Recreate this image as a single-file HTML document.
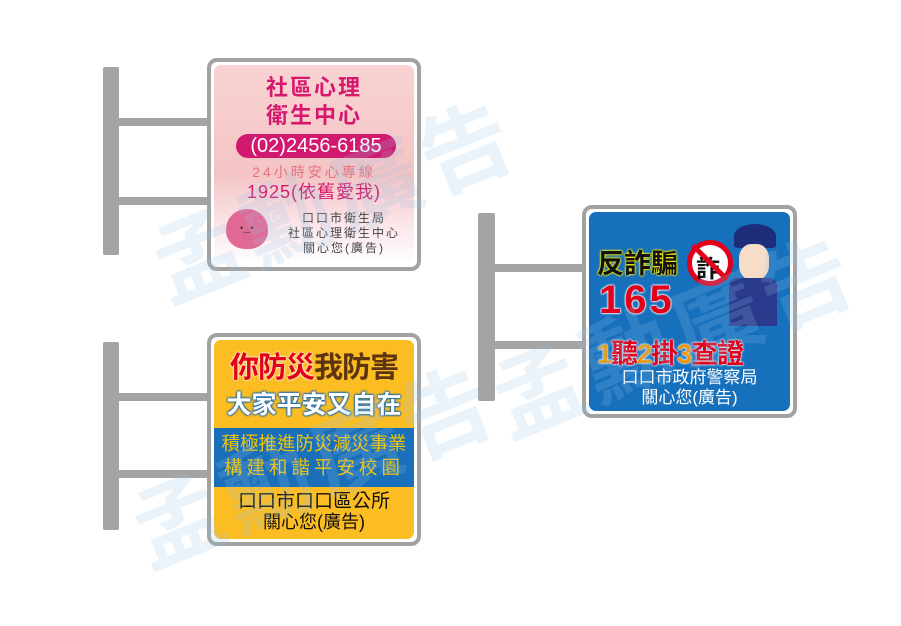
<!DOCTYPE html>
<html><head><meta charset="utf-8"><style>
body{margin:0;width:901px;height:626px;background:#fff;position:relative;overflow:hidden;font-family:"Liberation Sans","Noto Sans CJK TC",sans-serif}
.a{position:absolute}
.g{background:#a4a4a4}
.fr{position:absolute;border:4px solid #a2a2a2;border-radius:10px;background:#fff;box-sizing:border-box}
.in{position:absolute;border-radius:7px;overflow:hidden}
.t{position:absolute;left:0;right:0;text-align:center;white-space:nowrap;line-height:1}
.wm{position:absolute;font-size:90px;color:rgba(150,195,230,0.2);font-weight:bold;transform:rotate(-22deg);white-space:nowrap;letter-spacing:6px;pointer-events:none}
</style></head><body>
<!-- sign 1 -->
<div class="a g" style="left:103px;top:67px;width:16px;height:188px;border-radius:2px"></div>
<div class="a g" style="left:119px;top:118px;width:92px;height:8px"></div>
<div class="a g" style="left:119px;top:197px;width:92px;height:8px"></div>
<div class="fr" style="left:207px;top:58px;width:214px;height:213px"></div>
<div class="in" style="left:214px;top:65px;width:200px;height:200px;background:linear-gradient(#f9d3d3,#f4c4c4 55%,#fbe6ea 80%,#fff)">
 <div class="t" style="top:12px;font-size:22px;font-weight:bold;color:#d6186e;letter-spacing:2px">社區心理</div>
 <div class="t" style="top:40px;font-size:22px;font-weight:bold;color:#d6186e;letter-spacing:2px">衛生中心</div>
 <div class="a" style="left:22px;top:69px;width:160px;height:24px;border-radius:12px;background:#d0196f;color:#fff;font-size:20px;text-align:center;line-height:24px">(02)2456-6185</div>
 <div class="t" style="top:100px;font-size:14px;color:#e27382;letter-spacing:3px">24小時安心專線</div>
 <div class="t" style="top:118px;font-size:18px;color:#d6186e;letter-spacing:1px">1925(依舊愛我)</div>
 <div class="a" style="left:12px;top:144px;width:42px;height:40px;background:#e06a95;border-radius:50% 50% 45% 45%"></div>
 <div class="a" style="left:26px;top:158px;font-size:9px;color:#333">•‿•</div>
 <div class="a" style="left:62px;top:146px;width:136px;text-align:center;font-size:12px;color:#444;line-height:15px;letter-spacing:2px">口口市衛生局<br>社區心理衛生中心<br>關心您(廣告)</div>
</div>
<!-- sign 2 -->
<div class="a g" style="left:103px;top:342px;width:16px;height:188px;border-radius:2px"></div>
<div class="a g" style="left:119px;top:393px;width:92px;height:8px"></div>
<div class="a g" style="left:119px;top:470px;width:92px;height:8px"></div>
<div class="fr" style="left:207px;top:333px;width:214px;height:213px"></div>
<div class="in" style="left:214px;top:340px;width:200px;height:199px;background:#fbbd22">
 <div class="t" style="top:14px;font-size:29px;font-weight:bold;letter-spacing:-1px"><span style="color:#e2001b;text-shadow:0 0 2px #fff,0 0 2px #fff">你防災</span><span style="color:#5c3412">我防害</span></div>
 <div class="t" style="top:53px;font-size:25px;font-weight:bold;color:#fff;text-shadow:0 0 2px #1a6bb6,0 0 2px #1a6bb6,0 0 2px #1a6bb6,0 0 2px #1a6bb6">大家平安又自在</div>
 <div class="a" style="left:0;top:88px;width:200px;height:59px;background:#1a6fba"></div>
 <div class="t" style="top:95px;font-size:18.5px;color:#f5c400">積極推進防災減災事業</div>
 <div class="t" style="top:119px;font-size:18.5px;color:#f5c400;letter-spacing:4px">構建和諧平安校園</div>
 <div class="t" style="top:152px;font-size:19px;color:#111">口口市口口區公所</div>
 <div class="t" style="top:173px;font-size:18px;color:#111">關心您(廣告)</div>
</div>
<!-- sign 3 -->
<div class="a g" style="left:478px;top:213px;width:17px;height:188px;border-radius:2px"></div>
<div class="a g" style="left:495px;top:264px;width:92px;height:8px"></div>
<div class="a g" style="left:495px;top:341px;width:92px;height:8px"></div>
<div class="fr" style="left:582px;top:205px;width:215px;height:213px"></div>
<div class="in" style="left:589px;top:212px;width:201px;height:199px;background:#1670bc">
 <div class="a" style="left:145px;top:12px;width:42px;height:24px;background:#1d2d7a;border-radius:50% 50% 10% 10%"></div>
 <div class="a" style="left:150px;top:32px;width:30px;height:36px;background:#f7dcc8;border-radius:40%"></div>
 <div class="a" style="left:140px;top:66px;width:48px;height:48px;background:#2a3a8c;border-radius:8px 8px 0 0"></div>
 <div class="a" style="left:98px;top:28px;width:46px;height:46px;border-radius:50%;border:5px solid #e2001b;background:#fff;box-sizing:border-box"></div>
 <div class="a" style="left:107px;top:37px;font-size:24px;font-weight:bold;color:#111">詐</div>
 <div class="a" style="left:97px;top:48px;width:48px;height:5px;background:#e2001b;transform:rotate(45deg)"></div>
 <div class="a" style="left:8px;top:30px;font-size:27px;font-weight:bold;color:#111;text-shadow:0 0 2px #ffea00,0 0 2px #ffea00,0 0 2px #ffea00">反詐騙</div>
 <div class="a" style="left:10px;top:66px;font-size:40px;font-weight:bold;color:#e2001b;text-shadow:0 0 2px #fff,0 0 2px #fff,0 0 2px #fff;letter-spacing:3px">165</div>
 <div class="a" style="left:8px;top:120px;font-size:27px;font-weight:bold;letter-spacing:-1px;text-shadow:0 0 2px #fff,0 0 2px #fff"><span style="color:#f29600">1</span><span style="color:#e2001b">聽</span><span style="color:#f29600">2</span><span style="color:#e2001b">掛</span><span style="color:#f29600">3</span><span style="color:#e2001b">查證</span></div>
 <div class="t" style="top:157px;font-size:17px;color:#fff">口口市政府警察局</div>
 <div class="t" style="top:177px;font-size:17px;color:#fff">關心您(廣告)</div>
</div>
<div class="wm" style="left:140px;top:130px">孟勳廣告</div>
<div class="wm" style="left:120px;top:395px">孟勳廣告</div>
<div class="wm" style="left:480px;top:265px">孟勳廣告</div>
</body></html>
